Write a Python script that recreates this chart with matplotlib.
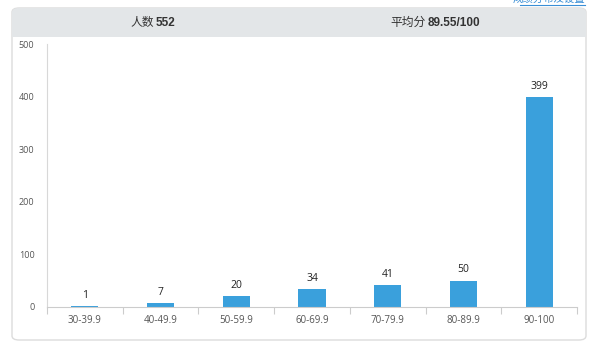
import matplotlib
matplotlib.use("Agg")
import matplotlib.pyplot as plt
from matplotlib.patches import FancyBboxPatch, Rectangle
from matplotlib.lines import Line2D

categories = ["30-39.9", "40-49.9", "50-59.9", "60-69.9", "70-79.9", "80-89.9", "90-100"]
counts = [1, 7, 20, 34, 41, 50, 399]
yticks = [0, 100, 200, 300, 400, 500]
header_count_label = "人数"
header_count_value = "552"
header_avg_label = "平均分"
header_avg_value = "89.55/100"
link_text = "成绩分布及设置"

W, H = 598, 346
fig = plt.figure(figsize=(W / 100, H / 100), dpi=100)
fig.patch.set_facecolor("white")

def fx(px):
    return px / W

def fy(py):
    return 1 - py / H

# card
card = FancyBboxPatch((fx(12), fy(340)), fx(586) - fx(12), fy(8) - fy(340),
                      boxstyle="round,pad=0,rounding_size=0.012",
                      transform=fig.transFigure, facecolor="white",
                      edgecolor="#dcdcdc", linewidth=1.0, zorder=0)
fig.add_artist(card)
header = Rectangle((fx(12), fy(37)), fx(586) - fx(12), fy(8) - fy(37),
                   transform=fig.transFigure, facecolor="#e3e6e8",
                   edgecolor="none", zorder=0.5)
header.set_clip_path(card)
fig.add_artist(header)

cjk = ["Noto Sans CJK SC", "DejaVu Sans"]
fig.text(fx(154), fy(22.5), header_count_label, ha="right", va="center",
         fontsize=8.5, family=cjk, color="#333333")
fig.text(fx(156), fy(22.5), header_count_value, ha="left", va="center",
         fontsize=8.5, family="Liberation Sans", weight="bold", color="#333333")
fig.text(fx(425.5), fy(22.5), header_avg_label, ha="right", va="center",
         fontsize=8.5, family=cjk, color="#333333")
fig.text(fx(428), fy(22.5), header_avg_value, ha="left", va="center",
         fontsize=8.5, family="Liberation Sans", weight="bold", color="#333333")

# link at top right (clipped by the page edge in the reference)
fig.text(fx(585), fy(4), link_text, ha="right", va="bottom", fontsize=7.5,
         family=cjk, color="#3a8fd6")
fig.add_artist(Line2D([fx(520), fx(585)], [fy(4.5), fy(4.5)],
                      transform=fig.transFigure, color="#3a8fd6", linewidth=0.8))

ax = fig.add_axes([fx(47), fy(307), fx(577) - fx(47), fy(44) - fy(307)])
ax.set_facecolor("none")
x = list(range(len(categories)))
bars = ax.bar(x, counts, width=0.36, color="#3aa0dc", zorder=2)
for xi, v in zip(x, counts):
    ax.text(xi, v + 10, str(v), ha="center", va="bottom", fontsize=7.5,
            family="Open Sans", color="#222222")

ax.set_xlim(-0.5, len(categories) - 0.5)
ax.set_ylim(0, 500)
ax.set_yticks(yticks)
ax.set_yticklabels([str(t) for t in yticks], fontsize=6.5, family="Open Sans",
                   color="#555555")
ax.set_xticks(x)
ax.set_xticklabels(categories, fontsize=7, family="Open Sans", color="#555555")
ax.tick_params(axis="x", which="major", length=0, pad=6)
ax.tick_params(axis="y", which="major", length=0, pad=9)
ax.set_xticks([i - 0.5 for i in range(len(categories) + 1)], minor=True)
ax.tick_params(axis="x", which="minor", length=5, color="#cccccc", width=0.8)

for s in ["top", "right"]:
    ax.spines[s].set_visible(False)
ax.spines["left"].set_color("#d8d8d8")
ax.spines["bottom"].set_color("#cccccc")
ax.spines["left"].set_linewidth(0.8)
ax.spines["bottom"].set_linewidth(0.8)

fig.savefig("out.png", dpi=100)
